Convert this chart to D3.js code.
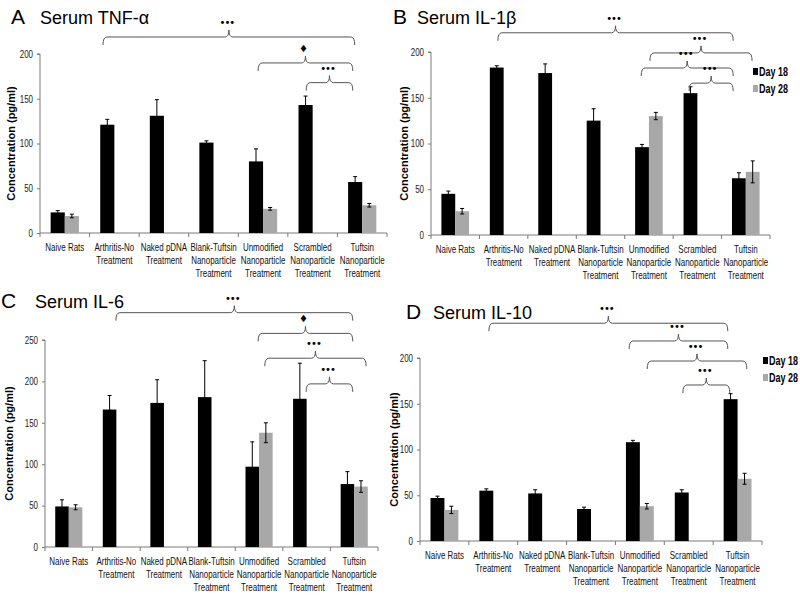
<!DOCTYPE html>
<html><head><meta charset="utf-8">
<script src="https://cdn.jsdelivr.net/npm/d3@7"></script>
<style>
body{margin:0;background:#fff;}
svg{display:block;}
</style></head>
<body>
<svg id="chart" width="800" height="598"></svg>
<script>
// ---------- data ----------
const categoryLabels = [
  ["Naive Rats"],
  ["Arthritis-No", "Treatment"],
  ["Naked pDNA", "Treatment"],
  ["Blank-Tuftsin", "Nanoparticle", "Treatment"],
  ["Unmodified", "Nanoparticle", "Treatment"],
  ["Scrambled", "Nanoparticle", "Treatment"],
  ["Tuftsin", "Nanoparticle", "Treatment"]
];
const seriesNames = ["Day 18", "Day 28"];

const tnfDay18 = [23, 121, 131, 101, 80, 143, 57];
const tnfDay18Err = [2, 6, 18, 2, 14, 10, 6];
const tnfDay28 = [19, null, null, null, 27, null, 31];
const tnfDay28Err = [2, 0, 0, 0, 1.5, 0, 2];

const il1bDay18 = [45, 183, 177, 125, 96, 155, 62];
const il1bDay18Err = [3, 2, 10, 13, 3, 7, 6];
const il1bDay28 = [26, null, null, null, 130, null, 69];
const il1bDay28Err = [3, 0, 0, 0, 4, 0, 12];

const il6Day18 = [49, 166, 174, 181, 97, 179, 76];
const il6Day18Err = [8, 17, 28, 44, 30, 43, 15];
const il6Day28 = [48, null, null, null, 138, null, 73];
const il6Day28Err = [3, 0, 0, 0, 12, 0, 7];

const il10Day18 = [47, 55, 52, 35, 108, 53, 155];
const il10Day18Err = [2, 2, 4, 2, 2, 3, 6];
const il10Day28 = [34, null, null, null, 38, null, 68];
const il10Day28Err = [4, 0, 0, 0, 3, 0, 6];

const ticks200 = [0, 50, 100, 150, 200];
const ticks250 = [0, 50, 100, 150, 200, 250];

// significance brackets: from/to in category units, level in data units
const tnfBrackets = [
  {from: 1.27, to: 6.35, level: 219, label: "\u2022\u2022\u2022"},
  {from: 4.40, to: 6.31, level: 190, label: "\u2666"},
  {from: 5.37, to: 6.31, level: 168, label: "\u2022\u2022\u2022"}
];
const il1bBrackets = [
  {from: 1.38, to: 6.24, level: 221, label: "\u2022\u2022\u2022"},
  {from: 4.52, to: 6.63, level: 199, label: "\u2022\u2022\u2022"},
  {from: 4.34, to: 6.24, level: 182.5, label: "\u2022\u2022\u2022"},
  {from: 5.33, to: 6.24, level: 166, label: "\u2022\u2022\u2022"}
];
const il6Brackets = [
  {from: 1.49, to: 6.47, level: 283, label: "\u2022\u2022\u2022"},
  {from: 4.48, to: 6.47, level: 258, label: "\u2666"},
  {from: 4.62, to: 6.75, level: 228, label: "\u2022\u2022\u2022"},
  {from: 5.49, to: 6.47, level: 197, label: "\u2022\u2022\u2022"}
];
const il10Brackets = [
  {from: 1.41, to: 6.30, level: 238, label: "\u2022\u2022\u2022"},
  {from: 4.28, to: 6.30, level: 218.6, label: "\u2022\u2022\u2022"},
  {from: 4.65, to: 6.69, level: 196.7, label: "\u2022\u2022\u2022"},
  {from: 5.38, to: 6.34, level: 170.5, label: "\u2022\u2022\u2022"}
];

// ---------- drawing ----------
const svg = d3.select("#chart");
const BLACK = "#000", GREY = "#a8a8a8", AXIS = "#7a7a7a";
const FONT = "Liberation Sans, Arial, sans-serif";
const NARROW = 0.76;

function panel(cfg) {
  const g = svg.append("g");
  const n = categoryLabels.length;
  const x = d3.scaleBand().domain(d3.range(n)).range([cfg.x0, cfg.x1]).paddingInner(0).paddingOuter(0);
  const y = d3.scaleLinear().domain([0, cfg.ymax]).range([cfg.yBottom, cfg.yTop]);
  const bw = x.bandwidth();
  const barW = bw * 0.285;
  const xc = d => x(d) + bw / 2;
  const xPos = p => cfg.x0 + p * bw;

  // title
  g.append("text").attr("x", cfg.letterX).attr("y", cfg.titleY)
    .attr("font-family", FONT).attr("font-size", 21).text(cfg.letter);
  g.append("text").attr("x", cfg.titleX).attr("y", cfg.titleY)
    .attr("font-family", FONT).attr("font-size", 18).text(cfg.title);

  // y axis
  const yAxis = d3.axisLeft(y).tickValues(cfg.ticks).tickSize(3).tickPadding(3);
  const ya = g.append("g").attr("transform", `translate(${cfg.x0},0)`).call(yAxis);
  ya.select(".domain").attr("stroke", AXIS).attr("d", `M-3,${y(cfg.ymax)}H0V${y(0)}`);
  ya.selectAll(".tick line").attr("stroke", AXIS);
  ya.selectAll(".tick text").attr("font-family", FONT).attr("font-size", 10.5).attr("fill", "#222")
    .attr("transform", `scale(${NARROW},1)`).attr("x", -7 / NARROW);

  // y label
  g.append("text")
    .attr("transform", `translate(${cfg.ylabX},${(y(0) + y(cfg.ymax)) / 2}) rotate(-90)`)
    .attr("text-anchor", "middle")
    .attr("font-family", FONT).attr("font-weight", "bold").attr("font-size", 11)
    .text("Concentration (pg/ml)");

  // x axis line + boundary ticks
  g.append("line").attr("x1", cfg.x0).attr("x2", cfg.x1).attr("y1", y(0)).attr("y2", y(0)).attr("stroke", AXIS);
  g.selectAll(".xt").data(d3.range(n + 1)).join("line")
    .attr("x1", d => xPos(d)).attr("x2", d => xPos(d))
    .attr("y1", y(0)).attr("y2", y(0) + 4).attr("stroke", AXIS);

  // x labels (condensed)
  const lab = g.selectAll(".xl").data(categoryLabels).join("text")
    .attr("font-family", FONT).attr("font-size", 10.5).attr("text-anchor", "middle").attr("fill", "#111")
    .attr("transform", (d, i) => `translate(${xc(i)},${y(0) + 18}) scale(${NARROW},1)`);
  lab.each(function(lines) {
    d3.select(this).selectAll("tspan").data(lines).join("tspan")
      .attr("x", 0).attr("y", (l, j) => j * 13.2).text(l => l);
  });

  // bars
  const rows = d3.range(n).map(i => ({i, v1: cfg.d18[i], e1: cfg.e18[i], v2: cfg.d28[i], e2: cfg.e28[i]}));
  g.selectAll(".b1").data(rows).join("rect")
    .attr("x", d => xc(d.i) - barW).attr("width", barW)
    .attr("y", d => y(d.v1)).attr("height", d => y(0) - y(d.v1)).attr("fill", BLACK);
  const r2 = rows.filter(d => d.v2 !== null);
  g.selectAll(".b2").data(r2).join("rect")
    .attr("x", d => xc(d.i)).attr("width", barW)
    .attr("y", d => y(d.v2)).attr("height", d => y(0) - y(d.v2)).attr("fill", GREY);

  function err(data, cxf, vk, ek) {
    const eg = g.append("g").attr("stroke", "#000").attr("stroke-width", 1);
    eg.selectAll("path").data(data).join("path")
      .attr("fill", "none")
      .attr("d", d => {
        const cx = cxf(d), hi = y(d[vk] + d[ek]), lo = y(d[vk] - d[ek]);
        return `M${cx},${lo}V${hi}M${cx - 2},${hi}H${cx + 2}M${cx - 2},${lo}H${cx + 2}`;
      });
  }
  err(rows, d => xc(d.i) - barW / 2, "v1", "e1");
  err(r2, d => xc(d.i) + barW / 2, "v2", "e2");

  // brackets
  const bg = g.append("g");
  cfg.brackets.forEach(b => {
    const x1 = xPos(b.from), x2 = xPos(b.to), yl = y(b.level), xm = (x1 + x2) / 2;
    const drop = 8, peak = 7, r = 4;
    const p = `M${x1},${yl + drop} Q${x1},${yl} ${x1 + r},${yl} L${xm - r},${yl} Q${xm},${yl} ${xm},${yl - peak} Q${xm},${yl} ${xm + r},${yl} L${x2 - r},${yl} Q${x2},${yl} ${x2},${yl + drop}`;
    bg.append("path").attr("d", p).attr("fill", "none").attr("stroke", "#555").attr("stroke-width", 1);
    bg.append("text").attr("x", xm - 2).attr("y", yl - peak - 4)
      .attr("text-anchor", "middle").attr("font-family", "DejaVu Sans, sans-serif")
      .attr("font-size", 10).attr("letter-spacing", b.label.length > 1 ? -1 : 0)
      .text(b.label);
  });

  // legend
  if (cfg.legend) {
    const lg = g.append("g");
    [BLACK, GREY].forEach((c, k) => {
      lg.append("rect").attr("x", cfg.legend.x).attr("y", cfg.legend.y + k * 17 - 8)
        .attr("width", 5).attr("height", 7).attr("fill", c);
      lg.append("text")
        .attr("transform", `translate(${cfg.legend.x + 6},${cfg.legend.y + k * 17}) scale(0.72,1)`)
        .attr("font-family", FONT).attr("font-size", 12.5).attr("font-weight", "bold").text(seriesNames[k]);
    });
  }
}

panel({letter: "A", title: "Serum TNF-\u03b1", letterX: 11, titleX: 40, titleY: 24, ylabX: 15,
  x0: 40, x1: 387, yBottom: 233, yTop: 54, ymax: 200, ticks: ticks200,
  d18: tnfDay18, e18: tnfDay18Err, d28: tnfDay28, e28: tnfDay28Err, brackets: tnfBrackets});
panel({letter: "B", title: "Serum IL-1\u03b2", letterX: 393, titleX: 417, titleY: 24, ylabX: 408,
  x0: 431, x1: 770, yBottom: 235, yTop: 52, ymax: 200, ticks: ticks200,
  d18: il1bDay18, e18: il1bDay18Err, d28: il1bDay28, e28: il1bDay28Err, brackets: il1bBrackets,
  legend: {x: 753, y: 76}});
panel({letter: "C", title: "Serum IL-6", letterX: 1, titleX: 35, titleY: 308, ylabX: 13,
  x0: 45, x1: 378, yBottom: 547, yTop: 340, ymax: 250, ticks: ticks250,
  d18: il6Day18, e18: il6Day18Err, d28: il6Day28, e28: il6Day28Err, brackets: il6Brackets});
panel({letter: "D", title: "Serum IL-10", letterX: 406, titleX: 433, titleY: 319, ylabX: 398,
  x0: 420, x1: 762, yBottom: 541, yTop: 358, ymax: 200, ticks: ticks200,
  d18: il10Day18, e18: il10Day18Err, d28: il10Day28, e28: il10Day28Err, brackets: il10Brackets,
  legend: {x: 763, y: 365}});
</script>
</body></html>
